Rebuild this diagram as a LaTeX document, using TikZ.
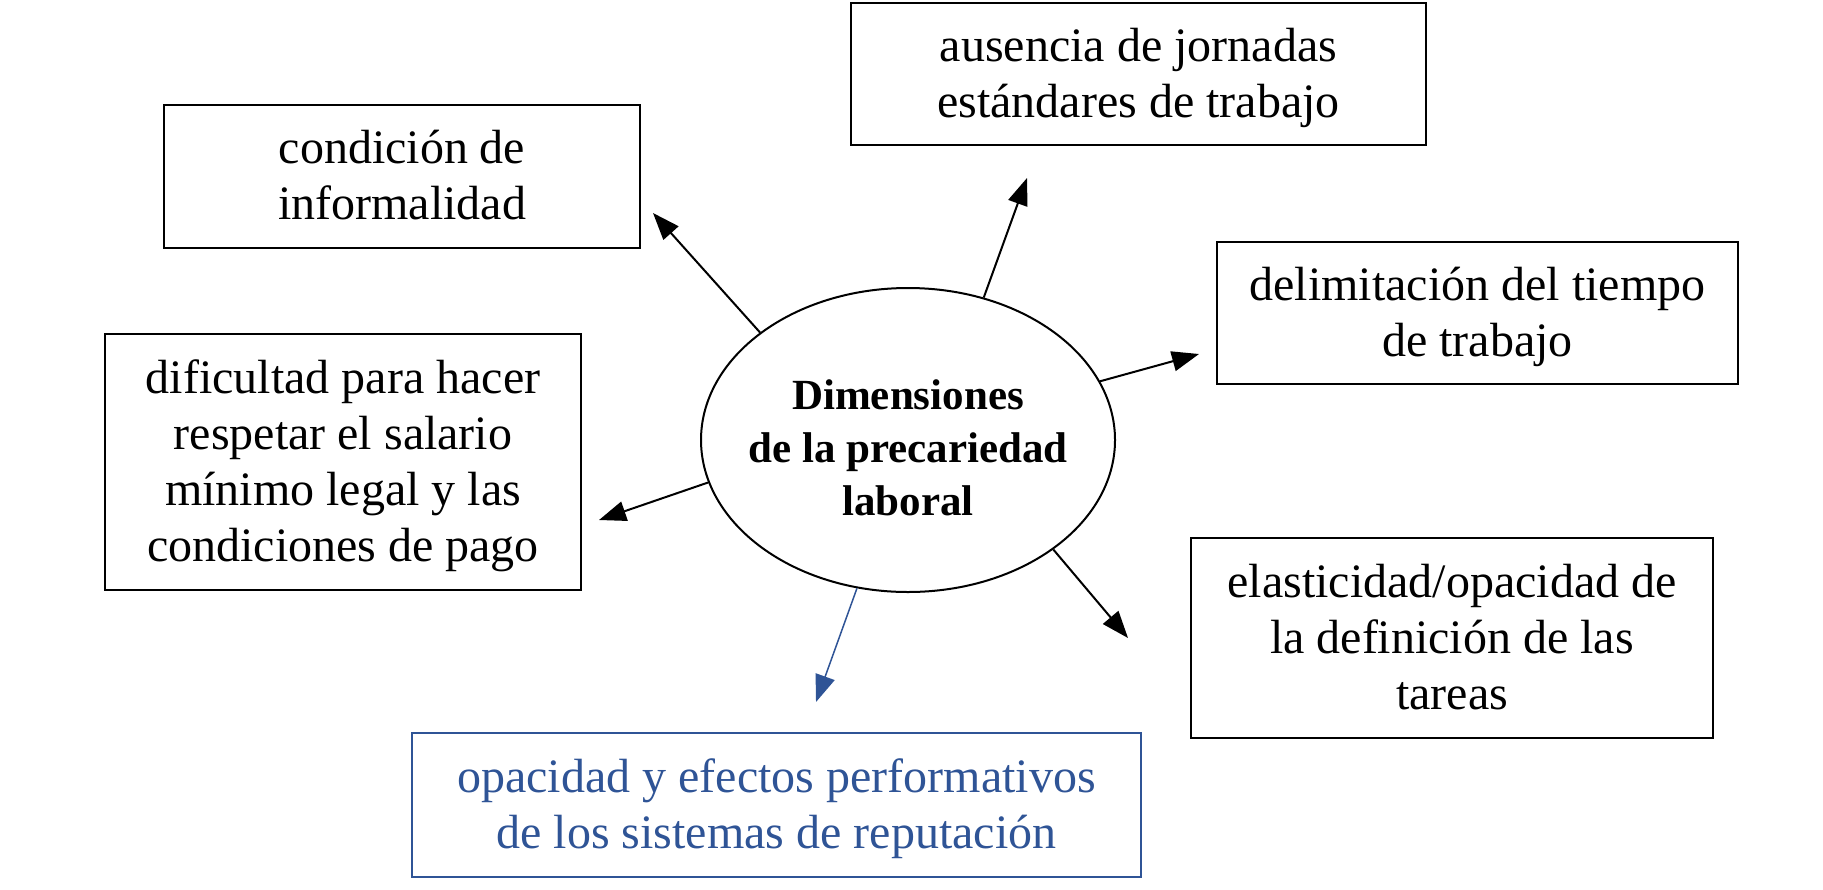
\documentclass[tikz,border=0pt]{standalone}
\usepackage{fontspec}
\setmainfont{Liberation Serif}
\usetikzlibrary{arrows.meta,shapes.geometric}
\definecolor{rblue}{RGB}{47,84,150}
\newcommand{\boxtxt}[1]{\raisebox{-2pt}[\height][\depth]{\begin{tabular}{@{}c@{}}#1\end{tabular}}}
\tikzset{
  boxnode/.style={draw=black, line width=1pt, inner sep=0pt,
    font=\fontsize{24}{28}\selectfont},
  bluebox/.style={boxnode, draw=rblue, text=rblue},
  centre/.style={draw=black, line width=1pt, ellipse, inner sep=0pt,
    minimum width=207pt, minimum height=152pt},
  centretext/.style={align=center, font=\fontsize{21.5}{26.5}\selectfont\bfseries},
  arr/.style={line width=1pt, -{Triangle[length=13.5pt,width=10pt]}},
  bluearr/.style={arr, line width=0.75pt, draw=rblue, -{Triangle[length=13.5pt,width=10pt,fill=rblue]}}
}
\begin{document}
\begin{tikzpicture}[x=0.5pt,y=-0.5pt]
\useasboundingbox (0,0) rectangle (1823,889);
% boxes
\node[boxnode, minimum width=287.5pt, minimum height=71pt] (A) at (1138.5,74)
  {\boxtxt{ausencia de jornadas\\estándares de trabajo}};
\node[boxnode, minimum width=238pt, minimum height=71.5pt] (B) at (402,176.5)
  {\boxtxt{condición de\\informalidad}};
\node[boxnode, minimum width=260.5pt, minimum height=71pt] (C) at (1477.5,313)
  {\boxtxt{delimitación del tiempo\\de trabajo}};
\node[boxnode, minimum width=238pt, minimum height=128pt] (D) at (343,462)
  {\boxtxt{dificultad para hacer\\respetar el salario\\mínimo legal y las\\condiciones de pago}};
\node[boxnode, minimum width=261pt, minimum height=100pt] (E) at (1452,638)
  {\boxtxt{elasticidad/opacidad de\\la definición de las\\tareas}};
\node[bluebox, minimum width=364.5pt, minimum height=72pt] (F) at (776.5,805)
  {\boxtxt{opacidad y efectos performativos\\de los sistemas de reputación}};
% centre
\node[centre] (el) at (908,440) {};
\node[centretext] (elt) at (908,448) {Dimensiones\\de la precariedad\\laboral};
% arrow tips
\coordinate (t1) at (653,213);
\coordinate (t2) at (1027,178);
\coordinate (t3) at (1199,354);
\coordinate (t4) at (599,520);
\coordinate (t5) at (1128,638);
\coordinate (t6) at (816,702);
\draw[arr] (el.144) -- (t1);
\draw[arr] (el.62.8) -- (t2);
\draw[arr] (el.17.5) -- (t3);
\draw[arr] (el.192.6) -- (t4);
\draw[arr] (el.323.6) -- (t5);
\draw[bluearr] (el.251) -- (t6);
\end{tikzpicture}
\end{document}
